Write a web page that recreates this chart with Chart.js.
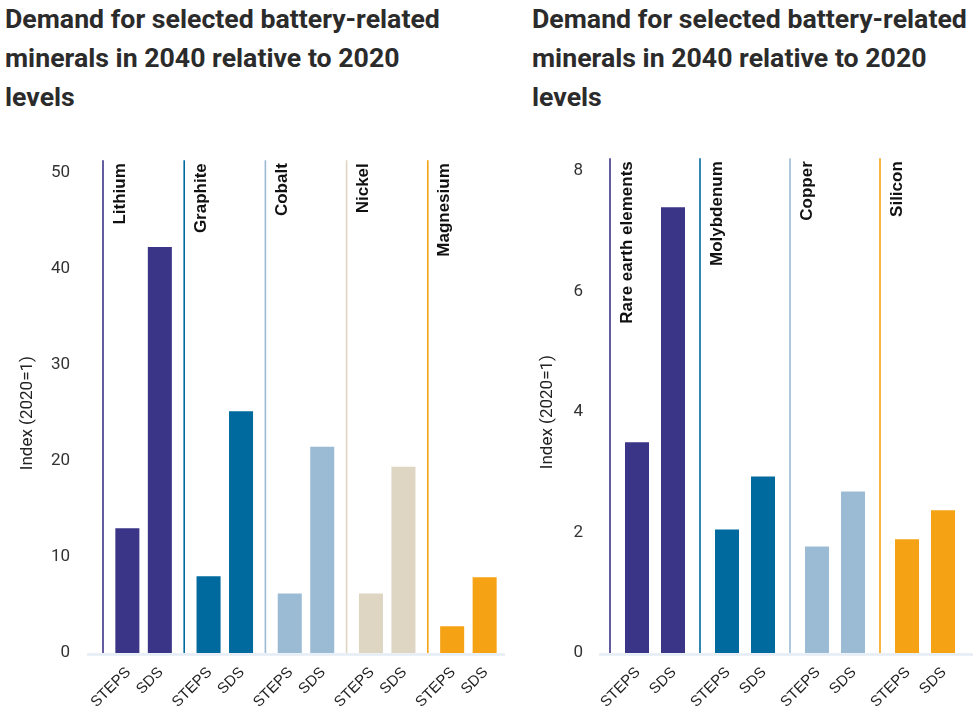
<!DOCTYPE html>
<html>
<head>
<meta charset="utf-8">
<script src="https://cdn.jsdelivr.net/npm/chart.js@4.4.1/dist/chart.umd.min.js"></script>
<style>
  body { margin: 0; background: #fff; width: 973px; height: 706px; position: relative; overflow: hidden; }
  h2 { position: absolute; top: 0; margin: 0; font: 700 26.7px/39px Roboto, sans-serif; color: #2b2b2b; white-space: nowrap; }
  canvas { position: absolute; }
</style>
</head>
<body>
<h2 style="left:5px">Demand for selected battery-related<br>minerals in 2040 relative to 2020<br>levels</h2>
<h2 style="left:532px">Demand for selected battery-related<br>minerals in 2040 relative to 2020<br>levels</h2>
<canvas id="leftChart" width="512" height="576" style="left:0;top:130px"></canvas>
<canvas id="rightChart" width="443" height="572" style="left:530px;top:134px"></canvas>
<script>
const scenarios = ['STEPS', 'SDS'];

const leftMinerals = ['Lithium', 'Graphite', 'Cobalt', 'Nickel', 'Magnesium'];
const leftSteps = [13, 8, 6.2, 6.2, 2.8];
const leftSds = [42.3, 25.2, 21.5, 19.4, 7.9];
const leftTicks = [0, 10, 20, 30, 40, 50];
const leftColors = ['#3a3587', '#006a9e', '#9bbbd5', '#ded6c3', '#f5a315'];

const rightMinerals = ['Rare earth elements', 'Molybdenum', 'Copper', 'Silicon'];
const rightSteps = [3.5, 2.05, 1.77, 1.89];
const rightSds = [7.4, 2.93, 2.68, 2.37];
const rightTicks = [0, 2, 4, 6, 8];
const rightColors = ['#3a3587', '#006a9e', '#9bbbd5', '#f5a315'];

// separators, rotated mineral names, scenario labels and the base line
const groupDecor = {
    id: 'groupDecor',
    afterDatasetsDraw(chart, args, opts) {
        const { ctx, chartArea, scales: { x } } = chart;
        const labels = chart.data.labels;
        const step = (chartArea.right - chartArea.left) / labels.length;
        ctx.save();

        ctx.strokeStyle = '#e4ecf5';
        ctx.lineWidth = 2.5;
        ctx.beginPath();
        ctx.moveTo(chartArea.left - opts.axisLead, chartArea.bottom + 1.5);
        ctx.lineTo(chartArea.right + opts.axisTail, chartArea.bottom + 1.5);
        ctx.stroke();

        labels.forEach((name, i) => {
            const sx = x.getPixelForValue(i) - step / 2;
            ctx.strokeStyle = opts.colors[i];
            ctx.lineWidth = 1.6;
            ctx.beginPath();
            ctx.moveTo(sx, chartArea.top - 13);
            ctx.lineTo(sx, chartArea.bottom);
            ctx.stroke();

            ctx.save();
            ctx.translate(sx + 17, chartArea.top - 10);
            ctx.rotate(-Math.PI / 2);
            ctx.font = 'bold 17px "Liberation Sans", Arial, sans-serif';
            ctx.fillStyle = '#111';
            ctx.textAlign = 'right';
            ctx.textBaseline = 'middle';
            ctx.fillText(name, 0, 0);
            ctx.restore();
        });

        chart.data.datasets.forEach((ds, di) => {
            chart.getDatasetMeta(di).data.forEach(bar => {
                ctx.save();
                ctx.translate(bar.x + 1, chartArea.bottom + 17);
                ctx.rotate(-Math.PI / 4);
                ctx.font = '15px "Liberation Sans", Arial, sans-serif';
                ctx.fillStyle = '#222';
                ctx.textAlign = 'right';
                ctx.textBaseline = 'middle';
                ctx.fillText(ds.label, 0, 0);
                ctx.restore();
            });
        });
        ctx.restore();
    }
};

function makeChart(id, minerals, steps, sds, ticks, colors, geo) {
    const ctx = document.getElementById(id).getContext('2d');
    return new Chart(ctx, {
        type: 'bar',
        data: {
            labels: minerals,
            datasets: [
                { label: scenarios[0], data: steps, backgroundColor: colors },
                { label: scenarios[1], data: sds, backgroundColor: colors }
            ]
        },
        plugins: [groupDecor],
        options: {
            responsive: false,
            animation: false,
            layout: { padding: { top: 0, bottom: 53, right: 3, left: 0 } },
            datasets: { bar: { categoryPercentage: 0.8, barPercentage: geo.barPct } },
            plugins: {
                legend: { display: false },
                tooltip: { enabled: false },
                groupDecor: { colors: colors, axisLead: geo.axisLead, axisTail: geo.axisTail }
            },
            scales: {
                x: { display: false },
                y: {
                    min: ticks[0],
                    max: ticks[ticks.length - 1],
                    afterFit: s => { s.width = geo.yWidth; },
                    afterBuildTicks: s => { s.ticks = ticks.map(v => ({ value: v })); },
                    grid: { display: false, drawTicks: false },
                    border: { display: false },
                    ticks: {
                        padding: geo.tickPad,
                        color: '#333',
                        font: { family: 'Roboto', size: 17 }
                    },
                    title: {
                        display: true,
                        text: 'Index (2020=1)',
                        color: '#222',
                        font: { family: 'Roboto', size: 17 },
                        padding: { top: geo.titlePad, bottom: 0 }
                    }
                }
            }
        }
    });
}

makeChart('leftChart', leftMinerals, leftSteps, leftSds, leftTicks, leftColors,
    { yWidth: 103, tickPad: 33, titlePad: 18, axisLead: 16, axisTail: -4, barPct: 0.74 });
makeChart('rightChart', rightMinerals, rightSteps, rightSds, rightTicks, rightColors,
    { yWidth: 80, tickPad: 27, titlePad: 8, axisLead: 11, axisTail: 3, barPct: 0.667 });
</script>
</body>
</html>
